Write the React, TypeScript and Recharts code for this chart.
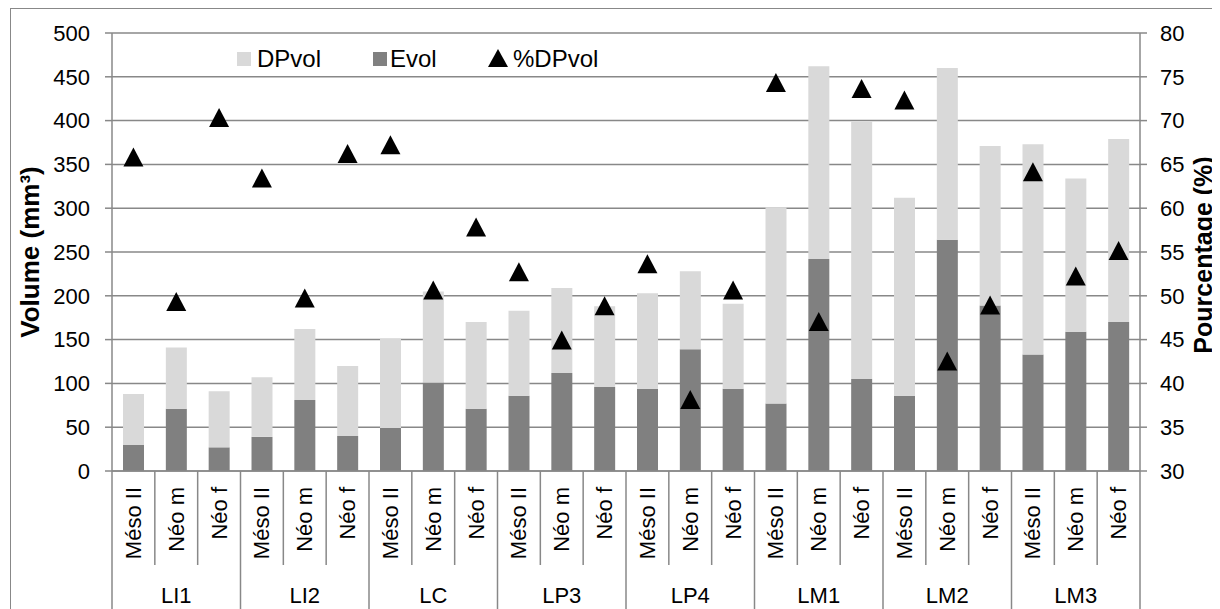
import { ComposedChart, Bar, Line, XAxis, YAxis, CartesianGrid } from "recharts";

const categories = [
  "Méso II", "Néo m", "Néo f",
  "Méso II", "Néo m", "Néo f",
  "Méso II", "Néo m", "Néo f",
  "Méso II", "Néo m", "Néo f",
  "Méso II", "Néo m", "Néo f",
  "Méso II", "Néo m", "Néo f",
  "Méso II", "Néo m", "Néo f",
  "Méso II", "Néo m", "Néo f",
];
const groups = ["LI1", "LI2", "LC", "LP3", "LP4", "LM1", "LM2", "LM3"];

// volumes (mm³), stacked: Evol at the bottom, DPvol on top
const evol = [30, 71, 27, 39, 81, 40, 49, 101, 71, 86, 112, 96, 94, 139, 94, 77, 242, 105, 86, 264, 189, 133, 159, 170];
const dpvol = [58, 70, 64, 68, 81, 80, 102, 104, 99, 97, 97, 92, 109, 89, 97, 224, 220, 294, 226, 196, 182, 240, 175, 209];
// %DPvol (right axis)
const pctDPvol = [65.8, 49.3, 70.3, 63.4, 49.7, 66.2, 67.2, 50.6, 57.8, 52.7, 44.9, 48.8, 53.6, 38.1, 50.6, 74.3, 47.0, 73.6, 72.3, 42.5, 48.9, 64.1, 52.2, 55.1];

const volTicks = [0, 50, 100, 150, 200, 250, 300, 350, 400, 450, 500];
const pctTicks = [30, 35, 40, 45, 50, 55, 60, 65, 70, 75, 80];

const data = categories.map((cat, i) => ({
  idx: i,
  cat,
  evol: evol[i],
  dpvol: dpvol[i],
  pct: pctDPvol[i],
}));

const FONT = '"Liberation Sans", Arial, sans-serif';
const GRID = "#888888";
const AXIS_H = 158;

function CatTick(props: any) {
  const { x, y, payload, width } = props;
  const i = Number(payload.value);
  const band = (width || 1028) / data.length;
  const left = x - band / 2;
  const right = x + band / 2;
  const isGroupStart = i % 3 === 0;
  return (
    <g>
      <line x1={left} y1={y} x2={left} y2={y + (isGroupStart ? AXIS_H : 94)} stroke={GRID} strokeWidth={1.5} />
      {i === data.length - 1 && (
        <line x1={right} y1={y} x2={right} y2={y + AXIS_H} stroke={GRID} strokeWidth={1.5} />
      )}
      <text
        transform={`translate(${x},${y + 16}) rotate(-90)`}
        textAnchor="end"
        dominantBaseline="central"
        fontSize={22}
        fontFamily={FONT}
        fill="#000"
      >
        {data[i].cat}
      </text>
      {i % 3 === 1 && (
        <text x={x} y={y + 124} textAnchor="middle" dominantBaseline="central" fontSize={22} fontFamily={FONT} fill="#000">
          {groups[Math.floor(i / 3)]}
        </text>
      )}
    </g>
  );
}

function Triangle(props: any) {
  const { cx, cy, index } = props;
  if (cx == null || cy == null) return <g key={index} />;
  return (
    <polygon
      key={index}
      points={`${cx},${cy - 10} ${cx - 10},${cy + 9} ${cx + 10},${cy + 9}`}
      fill="#000"
    />
  );
}

const leftTitle = (props: any) => {
  const vb = props?.viewBox ?? { x: 0, y: 24, width: 101, height: 438 };
  return (
    <text
      transform={`translate(${vb.x + 19},${vb.y + vb.height / 2}) rotate(-90)`}
      textAnchor="middle"
      dominantBaseline="central"
      fontSize={26}
      fontWeight="bold"
      fontFamily={FONT}
      fill="#000"
    >
      Volume (mm³)
    </text>
  );
};

const rightTitle = (props: any) => {
  const vb = props?.viewBox ?? { x: 1129, y: 24, width: 78, height: 438 };
  return (
    <text
      transform={`translate(${vb.x + 63},${vb.y + vb.height / 2 + 3}) rotate(-90)`}
      textAnchor="middle"
      dominantBaseline="central"
      fontSize={25}
      fontWeight="bold"
      fontFamily={FONT}
      fill="#000"
    >
      Pourcentage (%)
    </text>
  );
};

const legendText = { position: "absolute" as const, top: 37, fontSize: 24, lineHeight: "26px", fontFamily: FONT, color: "#000" };

export default function App() {
  return (
    <div style={{ position: "relative", marginLeft: 2, width: 1207, height: 620, border: "1px solid #888", background: "#fff" }}>
      <ComposedChart
        width={1207}
        height={620}
        data={data}
        margin={{ top: 24, right: 0, bottom: 0, left: 0 }}
        barCategoryGap={0}
      >
        <CartesianGrid yAxisId="vol" vertical={false} stroke={GRID} strokeWidth={1.5} />
        <XAxis
          dataKey="idx"
          type="category"
          height={AXIS_H}
          interval={0}
          tickLine={false}
          tickSize={0}
          tickMargin={0}
          axisLine={{ stroke: GRID, strokeWidth: 1.5 }}
          tick={<CatTick />}
        />
        <YAxis
          yAxisId="vol"
          orientation="left"
          width={101}
          domain={[0, 500]}
          ticks={volTicks}
          interval={0}
          tickSize={7}
          tickMargin={15}
          tickLine={{ stroke: GRID, strokeWidth: 1.5 }}
          axisLine={{ stroke: GRID, strokeWidth: 1.5 }}
          tick={{ fill: "#000", fontSize: 22, fontFamily: FONT }}
          label={leftTitle}
        />
        <YAxis
          yAxisId="pct"
          orientation="right"
          width={78}
          domain={[30, 80]}
          ticks={pctTicks}
          interval={0}
          tickSize={7}
          tickMargin={13}
          tickLine={{ stroke: GRID, strokeWidth: 1.5 }}
          axisLine={{ stroke: GRID, strokeWidth: 1.5 }}
          tick={{ fill: "#000", fontSize: 22, fontFamily: FONT, textAnchor: "start" }}
          label={rightTitle}
        />
        <Bar yAxisId="vol" dataKey="evol" stackId="v" fill="#808080" barSize={21} isAnimationActive={false} />
        <Bar yAxisId="vol" dataKey="dpvol" stackId="v" fill="#d9d9d9" barSize={21} isAnimationActive={false} />
        <Line
          yAxisId="pct"
          dataKey="pct"
          stroke="none"
          dot={(p: any) => <Triangle {...p} />}
          activeDot={false}
          isAnimationActive={false}
        />
      </ComposedChart>
      {/* legend */}
      <div style={{ position: "absolute", left: 226, top: 43, width: 14, height: 14, background: "#d9d9d9" }} />
      <div style={{ ...legendText, left: 246 }}>DPvol</div>
      <div style={{ position: "absolute", left: 362, top: 43, width: 14, height: 14, background: "#808080" }} />
      <div style={{ ...legendText, left: 379 }}>Evol</div>
      <svg style={{ position: "absolute", left: 477, top: 40 }} width={20} height={19}>
        <polygon points="10,0 0,18 20,18" fill="#000" />
      </svg>
      <div style={{ ...legendText, left: 502 }}>%DPvol</div>
    </div>
  );
}
